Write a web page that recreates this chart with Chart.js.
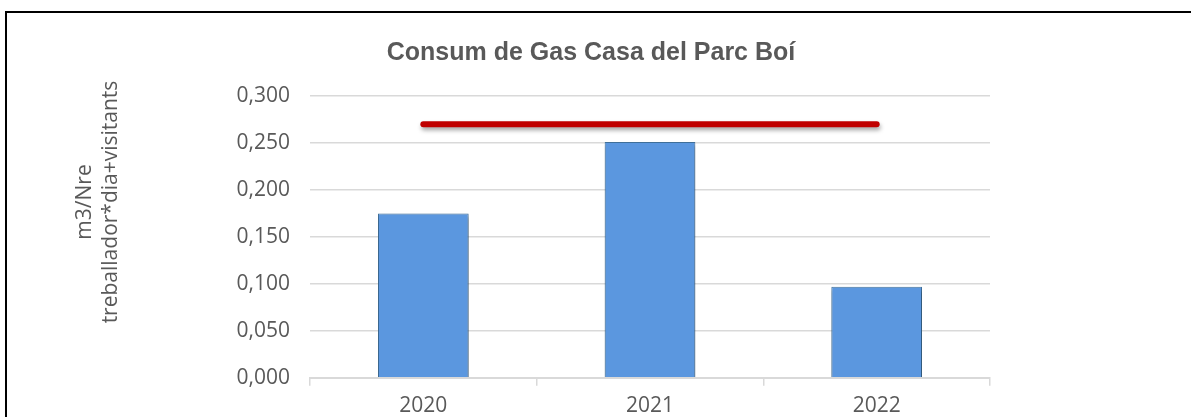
<!DOCTYPE html>
<html>
<head>
<meta charset="utf-8">
<script src="https://cdn.jsdelivr.net/npm/chart.js@4"></script>
<style>
    html, body { margin: 0; padding: 0; background: #fff; overflow: hidden; width: 1191px; height: 417px; }
    #frame { position: absolute; left: 5px; top: 11px; width: 1300px; height: 500px; border: 2px solid #000; box-sizing: border-box; }
    #gasChart { position: absolute; left: 0; top: 0; }
</style>
</head>
<body>
<div id="frame"></div>
<canvas id="gasChart" width="1182" height="431"></canvas>
<script>
// Chart data
const years = ['2020', '2021', '2022'];
const gasValues = [0.175, 0.251, 0.097];
const targetValues = [0.27, 0.27, 0.27];
const yMin = 0;
const yMax = 0.3;
const yStep = 0.05;

const chartTitle = 'Consum de Gas Casa del Parc Boí';
const yTitleLines = ['m3/Nre', 'treballador*dia+visitants'];

const textColor = '#595959';
const gridColor = '#d9d9d9';

// Drop shadow under bars and the target line
const shadowPlugin = {
    id: 'shadow',
    beforeDatasetDraw(chart) {
        const ctx = chart.ctx;
        ctx.save();
        ctx.shadowColor = 'rgba(0, 0, 0, 0.35)';
        ctx.shadowBlur = 4;
        ctx.shadowOffsetX = 1;
        ctx.shadowOffsetY = 3;
    },
    afterDatasetDraw(chart) {
        chart.ctx.restore();
    }
};

// Two-line rotated axis title
const yTitlePlugin = {
    id: 'yTitle',
    afterDraw(chart) {
        const ctx = chart.ctx;
        ctx.save();
        ctx.translate(98, 202);
        ctx.rotate(-Math.PI / 2);
        ctx.font = '21px "Open Sans"';
        ctx.fillStyle = textColor;
        ctx.textAlign = 'center';
        ctx.textBaseline = 'middle';
        const n = yTitleLines.length;
        yTitleLines.forEach((line, i) => {
            ctx.fillText(line, 0, (i - (n - 1) / 2) * 26);
        });
        ctx.restore();
    }
};

const ctx = document.getElementById('gasChart').getContext('2d');

new Chart(ctx, {
    data: {
        labels: years,
        datasets: [
            {
                type: 'line',
                data: targetValues,
                borderColor: '#C00000',
                borderWidth: 6,
                borderCapStyle: 'round',
                pointRadius: 0,
                fill: false,
                order: 0
            },
            {
                type: 'bar',
                data: gasValues,
                backgroundColor: '#5B97DF',
                borderColor: '#41719C',
                borderWidth: 1,
                categoryPercentage: 0.8,
                barPercentage: 0.5,
                order: 1
            }
        ]
    },
    options: {
        responsive: false,
        animation: false,
        layout: {
            padding: { left: 0, right: 0, top: 0, bottom: 4 }
        },
        plugins: {
            legend: { display: false },
            tooltip: { enabled: false },
            title: {
                display: true,
                text: chartTitle,
                color: textColor,
                font: { family: '"Liberation Sans", Arial, sans-serif', size: 25, weight: 'bold' },
                padding: { top: 38, bottom: 28 }
            }
        },
        scales: {
            x: {
                grid: {
                    drawOnChartArea: false,
                    color: gridColor,
                    lineWidth: 1.5,
                    tickLength: 8
                },
                border: { display: true, color: gridColor, width: 2 },
                ticks: {
                    color: textColor,
                    padding: 8,
                    font: { family: '"Open Sans"', size: 21 }
                }
            },
            y: {
                min: yMin,
                max: yMax,
                grid: {
                    color: gridColor,
                    lineWidth: 1.5,
                    drawTicks: false
                },
                border: { display: false },
                ticks: {
                    stepSize: yStep,
                    color: textColor,
                    padding: 20,
                    font: { family: '"Open Sans"', size: 21 },
                    callback: value => value.toFixed(3).replace('.', ',')
                },
                afterFit: scale => { scale.width = 310; }
            },
            y2: {
                position: 'right',
                display: true,
                grid: { display: false },
                border: { display: false },
                ticks: { display: false },
                afterFit: scale => { scale.width = 192; }
            }
        }
    },
    plugins: [shadowPlugin, yTitlePlugin]
});
</script>
</body>
</html>
